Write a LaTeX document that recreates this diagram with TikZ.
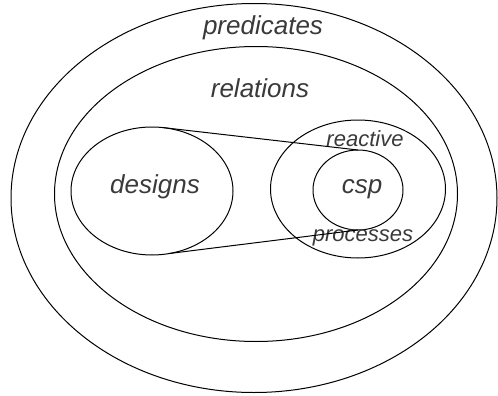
\documentclass[tikz,border=0pt]{standalone}
\usepackage{fontspec}
\setmainfont{Liberation Sans}
\usetikzlibrary{shapes.geometric}
\definecolor{labelgray}{RGB}{58,58,58}
\tikzset{setshape/.style={draw,ellipse,inner sep=0pt,outer sep=0pt,line width=1pt},
         biglabel/.style={text=labelgray,font=\fontsize{26}{28}\selectfont\itshape,inner sep=0pt},
         smalllabel/.style={text=labelgray,font=\fontsize{22}{24}\selectfont\itshape,inner sep=0pt}}

\begin{document}
\begin{tikzpicture}[x=1pt,y=-1pt]
     \useasboundingbox (0,0) rectangle (498,396);
     \node[setshape,minimum width=486pt,minimum height=389pt] (predicates) at (254,198) {};
     \node[setshape,minimum width=403pt,minimum height=295pt] (relations) at (256,194) {};
     \node[setshape,minimum width=162pt,minimum height=128pt] (designs) at (152,191) {};
     \node[setshape,minimum width=175pt,minimum height=138pt] (reactive) at (358,189) {};
     \node[setshape,minimum width=90pt,minimum height=80pt] (csp) at (358,190) {};
     \node[biglabel] (predtext) at (263,28) {predicates};
     \node[biglabel] (reltext) at (260,88) {relations};
     \node[biglabel] (destext) at (155,187) {designs};
     \node[biglabel] (csptext) at (362,189) {csp};
     \node[smalllabel] (reacttext) at (365,139) {reactive};
     \node[smalllabel] (proctext) at (363,238) {processes};
     \draw[line width=1pt] (designs.80) -- (csp.north);
     \draw[line width=1pt] (designs.-74) -- (csp.south);
    \end{tikzpicture}
\end{document}
